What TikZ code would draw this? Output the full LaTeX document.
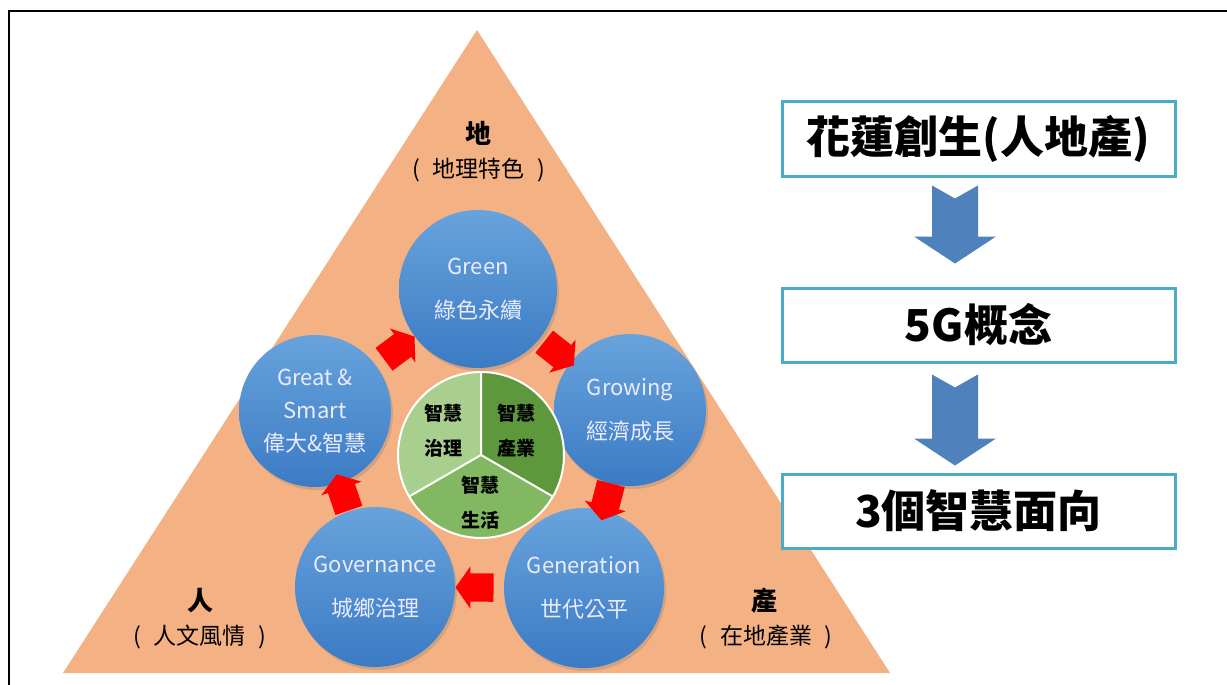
\documentclass[tikz,border=0pt]{standalone}
\usepackage{fontspec}
\setmainfont{Noto Sans CJK TC}
\usetikzlibrary{shapes.arrows, shadows, positioning, calc}

\definecolor{peach}{HTML}{F4B183}
\definecolor{ballTop}{HTML}{68A3DC}
\definecolor{ballBot}{HTML}{3B7BC4}
\definecolor{leafLight}{HTML}{A9CF8F}
\definecolor{leafMid}{HTML}{82B862}
\definecolor{leafDark}{HTML}{5E983C}
\definecolor{boxLine}{HTML}{4BACC6}
\definecolor{flowBlue}{HTML}{4F81BD}

\tikzstyle{ball} = [circle, inner sep=0pt, top color=ballTop, bottom color=ballBot,
  text=white!92!blue, align=center, font=\fontsize{22}{44}\selectfont,
  drop shadow={opacity=0.3, shadow xshift=2pt, shadow yshift=-3pt}]
\tikzstyle{flow} = [single arrow, fill=red, draw=none, inner xsep=0pt, inner ysep=14pt,
  minimum height=38pt, single arrow head extend=7pt,
  single arrow tip angle=110, sloped, allow upside down]
\tikzstyle{stage} = [draw=boxLine, line width=3pt, fill=white,
  minimum width=393pt, minimum height=74pt, font=\fontsize{44}{50}\selectfont\bfseries]

% blue notched arrow pointing down, #1 = top centre, #2 = length
\newcommand{\flowdown}[2]{%
  \fill[flowBlue] (#1) ++(-23,0) -- ++(23,13) -- ++(23,-13) -- ++(0,#2-27)
    -- ++(18,0) -- ++(-41,27) -- ++(-41,-27) -- ++(18,0) -- cycle;}
\newcommand{\paren}[1]{(\hspace{13pt}#1\hspace{13pt})}

\begin{document}
\begin{tikzpicture}[x=1pt, y=-1pt,
          pietext/.style={align=center, font=\fontsize{19}{35}\selectfont\bfseries},
          corner/.style={font=\fontsize{26}{30}\selectfont\bfseries},
          cornersub/.style={font=\fontsize{23}{28}\selectfont}
      ]
  \useasboundingbox (0,0) rectangle (1227,685);
  \fill[white] (0,0) rectangle (1227,685);
  \draw[line width=2.5pt] (9,685) -- (9,11) -- (1227,11);

  % the triangle
  \fill[peach] (477,30) -- (890,673) -- (63,673) -- cycle;

  \node[corner] (earth) at (478,133) {地};
  \node[cornersub] (earthSub) at (479,170) {\paren{地理特色}};
  \node[corner] (people) at (200,601) {人};
  \node[cornersub] (peopleSub) at (200,637) {\paren{人文風情}};
  \node[corner] (industry) at (764,601) {產};
  \node[cornersub] (industrySub) at (766,637) {\paren{在地產業}};

  % the five circles
  \node[ball, minimum size=158pt] (green) at (478,289) {Green\\綠色永續};
  \node[ball, minimum size=152pt] (growing) at (630,410) {Growing\\經濟成長};
  \node[ball, minimum size=160pt] (generation) at (584,588) {Generation\\世代公平};
  \node[ball, minimum size=160pt] (governance) at (375,587) {Governance\\城鄉治理};
  \node[ball, minimum size=152pt, font=\fontsize{22}{33}\selectfont] (great) at (315,411)
    {Great \&\\Smart\\偉大\&智慧};

  % red arrows between the circles
  \path (great) -- node[flow] {} (green);
  \path (green) -- node[flow] {} (growing);
  \path (growing) -- node[flow] {} (generation);
  \path (generation) -- node[flow] {} (governance);
  \path (governance) -- node[flow] {} (great);

  % the pie in the middle
  \coordinate (pie) at (481,455);
  \fill[leafLight] (pie) -- ++(-90:83) arc[start angle=-90, end angle=-210, radius=83] -- cycle;
  \fill[leafMid] (pie) -- ++(-210:83) arc[start angle=-210, end angle=-330, radius=83] -- cycle;
  \fill[leafDark] (pie) -- ++(30:83) arc[start angle=30, end angle=-90, radius=83] -- cycle;
  \draw[white, line width=2pt] (pie) -- ++(-90:83) (pie) -- ++(-210:83) (pie) -- ++(30:83);
  \draw[white, line width=2pt] (pie) circle[radius=83];
  \node[pietext] (pieGov) at (443,431) {智慧\\治理};
  \node[pietext] (pieInd) at (516,431) {智慧\\產業};
  \node[pietext] (pieLife) at (480,503) {智慧\\生活};

  % the steps on the right
  \node[stage] (origin) at (978.5,139) {花蓮創生(人地產)};
  \node[stage] (fiveG) at (978.5,325) {5G概念};
  \node[stage] (facets) at (978.5,511) {3個智慧面向};

  \coordinate (down1) at ([xshift=-23.5pt, yshift=-8pt]origin.south);
  \coordinate (down2) at ([xshift=-23.5pt, yshift=-11pt]fiveG.south);
  \flowdown{down1}{78}
  \flowdown{down2}{91}
\end{tikzpicture}
\end{document}
